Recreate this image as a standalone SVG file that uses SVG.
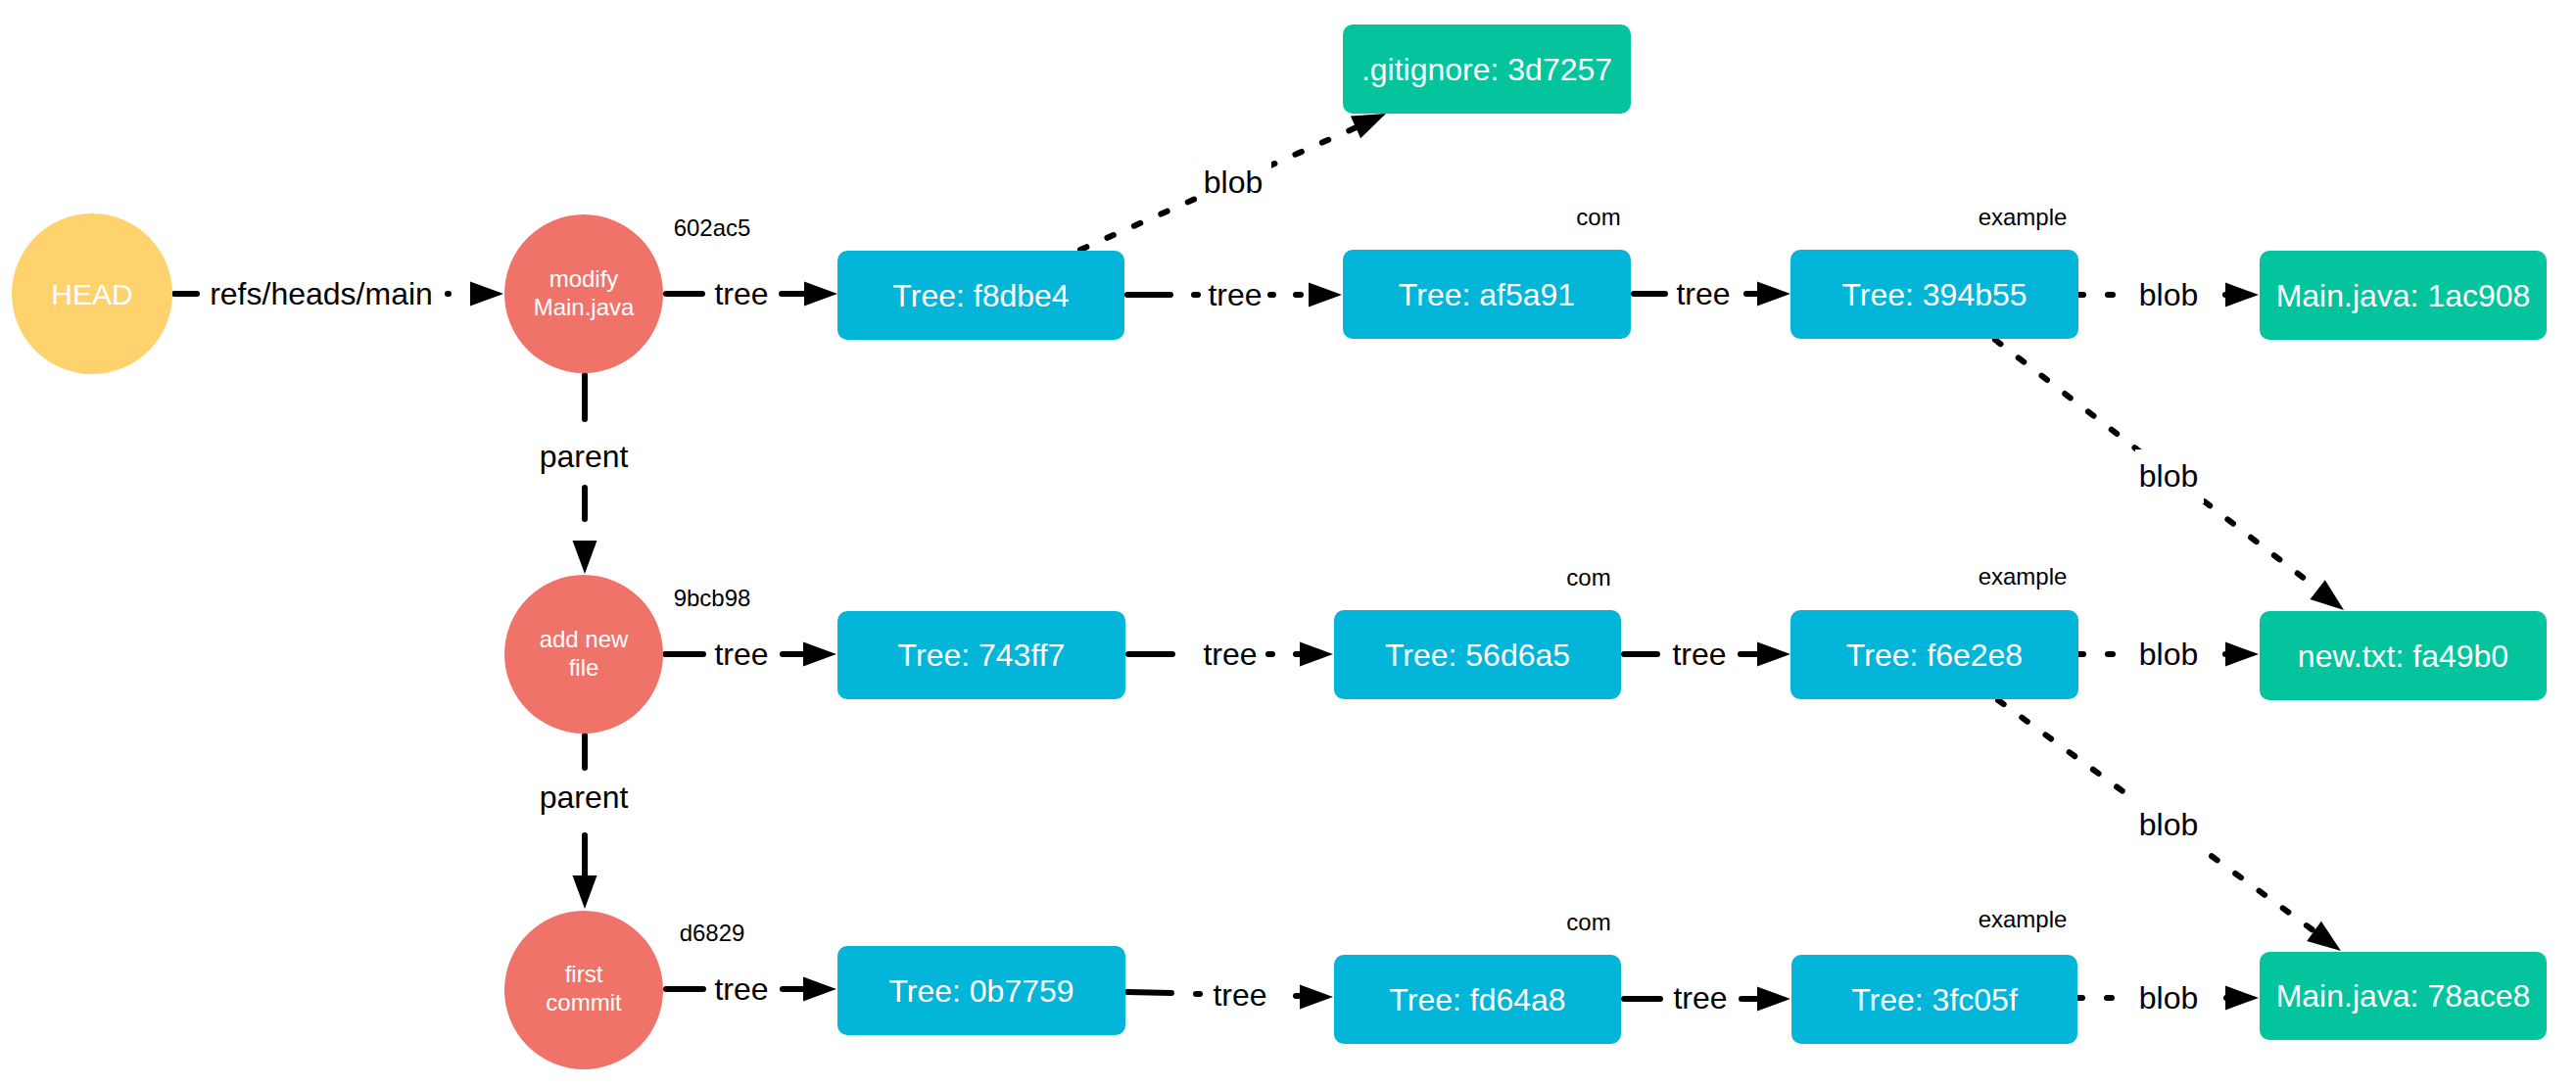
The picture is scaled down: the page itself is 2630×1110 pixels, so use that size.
<svg xmlns="http://www.w3.org/2000/svg" xmlns:xlink="http://www.w3.org/1999/xlink" width="2630" height="1110" viewBox="0 0 2630 1110">
<style>
.bg{fill:#ffffff}
.head{fill:#FED36E}
.commit{fill:#F0736A}
.tree{fill:#03B5D8}
.blob{fill:#04C49D}
.nt{font-family:"Liberation Sans",Arial,Helvetica,sans-serif;fill:#ffffff;text-anchor:middle}
.big{font-size:32px}
.cm{font-size:24px}
.lbl{font-family:"Liberation Sans",Arial,Helvetica,sans-serif;font-size:32px;fill:#000000;text-anchor:middle}
.sm{font-family:"Liberation Sans",Arial,Helvetica,sans-serif;font-size:24px;fill:#000000;text-anchor:middle}
.ln{fill:none;stroke:#000000;stroke-width:6;stroke-linecap:round}
.dash{fill:none;stroke:#000000;stroke-width:6;stroke-linecap:round;stroke-dasharray:7 23}
.lblbg{fill:#ffffff}
</style>
<defs>
<path id="ah" d="M0,0 L-34,-12.5 L-34,12.5 Z" fill="#000000"/>
</defs>
<rect class="bg" x="0" y="0" width="2630" height="1110"/>

<g id="connectors">
  <!-- HEAD -> commit1 -->
  <path class="ln" d="M178,300 H201 M457,300 h1"/>
  <use xlink:href="#ah" transform="translate(514,300)"/>
  <text class="lbl" x="328" y="311">refs/heads/main</text>

  <!-- commit1 -> tree f8dbe4 -->
  <path class="ln" d="M680,300 H717 M798,300 H822"/>
  <use xlink:href="#ah" transform="translate(855,300)"/>
  <text class="lbl" x="757" y="311">tree</text>

  <!-- f8dbe4 -> af5a91 -->
  <path class="ln" d="M1151,301 H1195 M1219,301 h4 M1297,301 h3 M1323,301 h5"/>
  <use xlink:href="#ah" transform="translate(1370,301)"/>
  <text class="lbl" x="1261" y="312">tree</text>

  <!-- af5a91 -> 394b55 -->
  <path class="ln" d="M1668,300 H1700 M1783,300 H1797"/>
  <use xlink:href="#ah" transform="translate(1828,300)"/>
  <text class="lbl" x="1739" y="311">tree</text>

  <!-- 394b55 -> Main.java 1ac908 -->
  <path class="ln" d="M2122,301 h5 M2152,301 h5 M2272,301 h3"/>
  <use xlink:href="#ah" transform="translate(2306,301)"/>
  <text class="lbl" x="2214" y="312">blob</text>

  <!-- f8dbe4 -> .gitignore -->
  <path class="dash" d="M1103,255 L1385,130"/>
  <use xlink:href="#ah" transform="translate(1415,116) rotate(-24.2)"/>
  <rect class="lblbg" x="1222" y="160" width="76" height="48"/>
  <text class="lbl" x="1259" y="197">blob</text>

  <!-- 394b55 -> new.txt -->
  <path class="dash" d="M2037,347 L2367,602"/>
  <use xlink:href="#ah" transform="translate(2393,623) rotate(37.8)"/>
  <rect class="lblbg" x="2180" y="459" width="70" height="55"/>
  <text class="lbl" x="2214" y="497">blob</text>

  <!-- commit1 -> commit2 parent -->
  <path class="ln" d="M597,383 V428 M597,498 V530"/>
  <use xlink:href="#ah" transform="translate(597,586) rotate(90)"/>
  <text class="lbl" x="596" y="477">parent</text>

  <!-- commit2 -> 743ff7 -->
  <path class="ln" d="M679,668 H718 M799,668 H822"/>
  <use xlink:href="#ah" transform="translate(854,668)"/>
  <text class="lbl" x="757" y="679">tree</text>

  <!-- 743ff7 -> 56d6a5 -->
  <path class="ln" d="M1152,668 H1197 M1295,668 h4 M1323,668 h5"/>
  <use xlink:href="#ah" transform="translate(1361,668)"/>
  <text class="lbl" x="1256" y="679">tree</text>

  <!-- 56d6a5 -> f6e2e8 -->
  <path class="ln" d="M1658,668 H1692 M1777,668 H1797"/>
  <use xlink:href="#ah" transform="translate(1828,668)"/>
  <text class="lbl" x="1735" y="679">tree</text>

  <!-- f6e2e8 -> new.txt -->
  <path class="ln" d="M2122,668 h5 M2152,668 h5 M2272,668 h3"/>
  <use xlink:href="#ah" transform="translate(2306,668)"/>
  <text class="lbl" x="2214" y="679">blob</text>

  <!-- f6e2e8 -> Main.java 78ace8 -->
  <path class="dash" d="M2040,715 L2363,951"/>
  <use xlink:href="#ah" transform="translate(2390,971) rotate(36.1)"/>
  <rect class="lblbg" x="2178" y="816" width="72" height="56"/>
  <text class="lbl" x="2214" y="853">blob</text>

  <!-- commit2 -> commit3 parent -->
  <path class="ln" d="M597,751 V784 M597,853 V898"/>
  <use xlink:href="#ah" transform="translate(597,928) rotate(90)"/>
  <text class="lbl" x="596" y="825">parent</text>

  <!-- commit3 -> 0b7759 -->
  <path class="ln" d="M680,1010 H718 M799,1010 H822"/>
  <use xlink:href="#ah" transform="translate(854,1010)"/>
  <text class="lbl" x="757" y="1021">tree</text>

  <!-- 0b7759 -> fd64a8 -->
  <path class="ln" d="M1151,1013 L1196,1014 M1221,1015 h4 M1323,1017 h5"/>
  <use xlink:href="#ah" transform="translate(1361,1018)"/>
  <text class="lbl" x="1266" y="1027">tree</text>

  <!-- fd64a8 -> 3fc05f -->
  <path class="ln" d="M1658,1020 H1695 M1778,1020 H1797"/>
  <use xlink:href="#ah" transform="translate(1828,1020)"/>
  <text class="lbl" x="1736" y="1030">tree</text>

  <!-- 3fc05f -> Main.java 78ace8 -->
  <path class="ln" d="M2121,1019 h5 M2151,1019 h5 M2273,1019 h3"/>
  <use xlink:href="#ah" transform="translate(2306,1019)"/>
  <text class="lbl" x="2214" y="1030">blob</text>
</g>

<g id="head">
  <circle class="head" cx="94" cy="300" r="82"/>
  <text class="nt" x="94" y="311" font-size="30">HEAD</text>
</g>

<g id="commit-602ac5">
  <circle class="commit" cx="596" cy="300" r="81"/>
  <text class="nt cm" x="596" y="293">modify</text>
  <text class="nt cm" x="596" y="322">Main.java</text>
  <text class="sm" x="727" y="241">602ac5</text>
</g>
<g id="commit-9bcb98">
  <circle class="commit" cx="596" cy="668" r="81"/>
  <text class="nt cm" x="596" y="661">add new</text>
  <text class="nt cm" x="596" y="690">file</text>
  <text class="sm" x="727" y="619">9bcb98</text>
</g>
<g id="commit-d6829">
  <circle class="commit" cx="596" cy="1011" r="81"/>
  <text class="nt cm" x="596" y="1003">first</text>
  <text class="nt cm" x="596" y="1032">commit</text>
  <text class="sm" x="727" y="961">d6829</text>
</g>

<g id="tree-f8dbe4">
  <rect class="tree" x="855" y="256" width="293" height="91" rx="10"/>
  <text class="nt big" x="1001.5" y="312.5">Tree: f8dbe4</text>
</g>
<g id="blob-3d7257">
  <rect class="blob" x="1371" y="25" width="294" height="91" rx="10"/>
  <text class="nt big" x="1518" y="81.5">.gitignore: 3d7257</text>
</g>
<g id="tree-af5a91">
  <rect class="tree" x="1371" y="255" width="294" height="91" rx="10"/>
  <text class="nt big" x="1518" y="311.5">Tree: af5a91</text>
  <text class="sm" x="1632" y="230">com</text>
</g>
<g id="tree-394b55">
  <rect class="tree" x="1828" y="255" width="294" height="91" rx="10"/>
  <text class="nt big" x="1975" y="311.5">Tree: 394b55</text>
  <text class="sm" x="2065" y="230">example</text>
</g>
<g id="blob-1ac908">
  <rect class="blob" x="2307" y="256" width="293" height="91" rx="10"/>
  <text class="nt big" x="2453.5" y="312.5">Main.java: 1ac908</text>
</g>

<g id="tree-743ff7">
  <rect class="tree" x="855" y="624" width="294" height="90" rx="10"/>
  <text class="nt big" x="1002" y="680">Tree: 743ff7</text>
</g>
<g id="tree-56d6a5">
  <rect class="tree" x="1362" y="623" width="293" height="91" rx="10"/>
  <text class="nt big" x="1508.5" y="679.5">Tree: 56d6a5</text>
  <text class="sm" x="1622" y="598">com</text>
</g>
<g id="tree-f6e2e8">
  <rect class="tree" x="1828" y="623" width="294" height="91" rx="10"/>
  <text class="nt big" x="1975" y="679.5">Tree: f6e2e8</text>
  <text class="sm" x="2065" y="597">example</text>
</g>
<g id="blob-fa49b0">
  <rect class="blob" x="2307" y="624" width="293" height="91" rx="10"/>
  <text class="nt big" x="2453.5" y="680.5">new.txt: fa49b0</text>
</g>

<g id="tree-0b7759">
  <rect class="tree" x="855" y="966" width="294" height="91" rx="10"/>
  <text class="nt big" x="1002" y="1022.5">Tree: 0b7759</text>
</g>
<g id="tree-fd64a8">
  <rect class="tree" x="1362" y="975" width="293" height="91" rx="10"/>
  <text class="nt big" x="1508.5" y="1031.5">Tree: fd64a8</text>
  <text class="sm" x="1622" y="950">com</text>
</g>
<g id="tree-3fc05f">
  <rect class="tree" x="1829" y="975" width="292" height="91" rx="10"/>
  <text class="nt big" x="1975" y="1031.5">Tree: 3fc05f</text>
  <text class="sm" x="2065" y="947">example</text>
</g>
<g id="blob-78ace8">
  <rect class="blob" x="2307" y="972" width="293" height="90" rx="10"/>
  <text class="nt big" x="2453.5" y="1028">Main.java: 78ace8</text>
</g>
</svg>
